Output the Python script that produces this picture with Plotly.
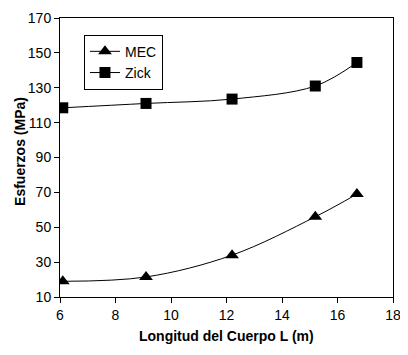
import plotly.graph_objects as go

x_vals = [6.1, 9.1, 12.2, 15.2, 16.7]
mec = [19, 21.5, 34, 56, 69]
zick = [118.5, 121, 123.5, 131, 144.5]
x_ticks = [6, 8, 10, 12, 14, 16, 18]
y_ticks = [10, 30, 50, 70, 90, 110, 130, 150, 170]

fig = go.Figure()
fig.add_trace(go.Scatter(x=x_vals, y=mec, name="MEC", mode="lines+markers",
                         line=dict(color="black", width=1, shape="spline"),
                         marker=dict(symbol="triangle-up", size=12, color="black")))
fig.add_trace(go.Scatter(x=x_vals, y=zick, name="Zick", mode="lines+markers",
                         line=dict(color="black", width=1, shape="spline"),
                         marker=dict(symbol="square", size=11, color="black")))

font = "Liberation Sans, Arial, sans-serif"
fig.update_layout(
    width=400, height=347,
    margin=dict(l=52, r=15, t=10, b=58),
    paper_bgcolor="white", plot_bgcolor="white",
    font=dict(family=font, size=14, color="black"),
    showlegend=True,
    legend=dict(x=0.072, y=0.94, xanchor="left", yanchor="top",
                bordercolor="black", borderwidth=1, bgcolor="white",
                font=dict(size=14), tracegroupgap=0, itemwidth=30),
    xaxis=dict(range=[6, 18], tickvals=x_ticks, showgrid=False, zeroline=False,
               showline=True, linecolor="black", linewidth=1, mirror=True,
               ticks="outside", ticklen=5, tickcolor="black", automargin=False),
    yaxis=dict(range=[10, 170], tickvals=y_ticks, showgrid=False, zeroline=False,
               showline=True, linecolor="black", linewidth=1, mirror=True,
               ticks="outside", ticklen=5, tickcolor="black", automargin=False),
    annotations=[
        dict(text="<b>Longitud del Cuerpo L (m)</b>", xref="paper", yref="paper",
             x=0.5, y=-0.14, xanchor="center", yanchor="middle", showarrow=False,
             font=dict(size=14)),
        dict(text="<b>Esfuerzos (MPa)</b>", xref="paper", yref="paper",
             x=-0.12, y=0.52, xanchor="center", yanchor="middle", showarrow=False,
             textangle=-90, font=dict(size=14)),
    ],
)
fig.write_html("out.html")
